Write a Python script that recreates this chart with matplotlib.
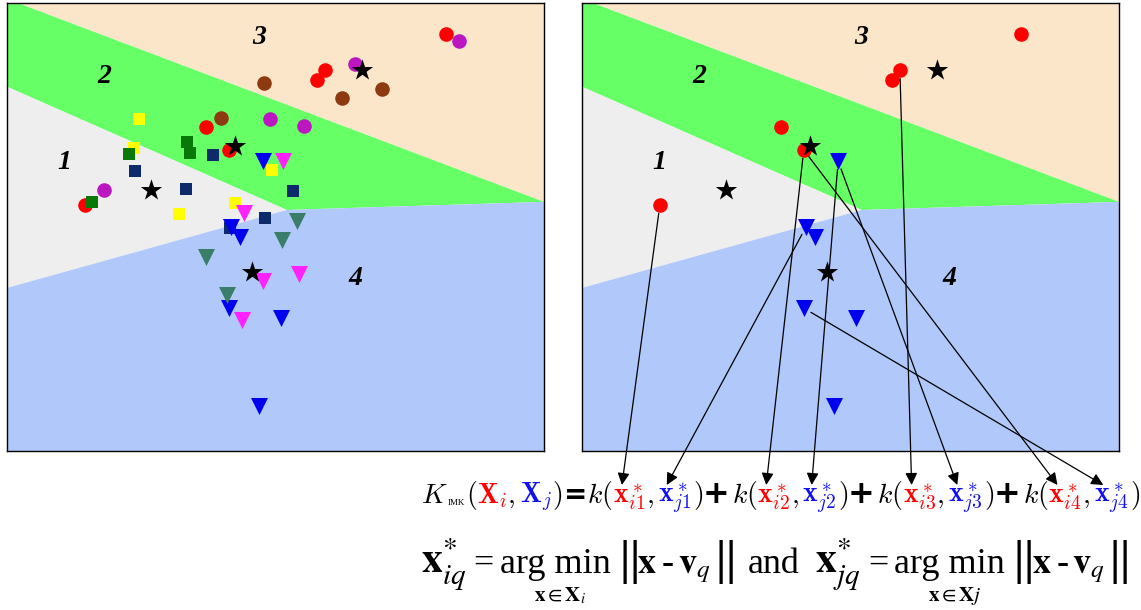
import matplotlib
matplotlib.use("Agg")
import matplotlib.pyplot as plt
from matplotlib.patches import ConnectionPatch
from matplotlib.transforms import IdentityTransform

W, H = 1141, 610

# ---------------------------------------------------------------- data
# Points live in a 0..100 x 0..100 square (y up).
red_x = [81.8, 59.2, 57.7, 37.1, 41.3, 14.5]
red_y = [93.1, 85.0, 82.8, 72.3, 67.2, 54.9]
purple_x = [84.2, 64.8, 49.0, 55.3, 18.1]
purple_y = [91.5, 86.4, 74.1, 72.5, 58.3]
brown_x = [47.9, 62.4, 69.8, 39.9]
brown_y = [82.1, 78.8, 80.8, 74.3]

yellow_x = [24.6, 23.6, 49.3, 42.5, 32.0]
yellow_y = [74.1, 67.6, 62.7, 55.4, 52.9]
green_x = [33.5, 34.1, 22.7, 15.8]
green_y = [69.0, 66.5, 66.3, 55.6]
navy_x = [38.4, 23.8, 33.3, 53.3, 48.0, 41.5]
navy_y = [66.1, 62.5, 58.5, 58.0, 52.0, 49.8]

blue_x = [47.7, 41.7, 43.4, 41.3, 51.0, 46.9]
blue_y = [64.7, 50.0, 47.8, 31.9, 29.7, 10.0]
magenta_x = [51.4, 44.1, 54.4, 47.7, 43.8]
magenta_y = [64.7, 53.1, 39.5, 37.9, 29.2]
teal_x = [54.0, 51.2, 37.1, 41.0]
teal_y = [51.3, 47.1, 43.3, 34.8]

# code vectors v_1..v_4
star_x = [26.8, 42.5, 66.1, 45.6]
star_y = [58.3, 68.1, 85.0, 40.0]

# region partition of the square
left_12 = (0.0, 81.3)
left_14 = (0.0, 36.4)
junction_124 = (52.1, 53.8)
right_234 = (100.0, 55.6)
top_23 = (2.0, 100.0)

region_labels = ["1", "2", "3", "4"]
label_y = [64.3, 83.5, 92.2, 38.6]
label_x_left = [10.6, 18.1, 46.9, 64.8]
label_x_right = [14.3, 21.8, 52.0, 68.5]

# nearest member of each set to v_q (indices into the red / blue lists)
pick_i = [5, 4, 1, 4]
pick_j = [1, 0, 0, 3]

# ---------------------------------------------------------------- colours
C_TAN, C_GREEN, C_GRAY, C_BLUE = "#FCE6C9", "#66FF66", "#EEEEEE", "#B0C8FA"
RED, BLUE = "#FF0000", "#1111EE"

fig = plt.figure(figsize=(W / 100, H / 100), dpi=100)
fig.patch.set_facecolor("white")


def draw_regions(ax):
    polys = [
        ([top_23, (100, 100), right_234], C_TAN),
        ([(0, 100), top_23, right_234, junction_124, left_12], C_GREEN),
        ([left_12, junction_124, left_14], C_GRAY),
        ([left_14, junction_124, right_234, (100, 0), (0, 0)], C_BLUE),
    ]
    for pts, c in polys:
        xs, ys = zip(*pts)
        ax.fill(xs, ys, color=c, lw=0, zorder=0)
    ax.set_xlim(0, 100)
    ax.set_ylim(0, 100)
    ax.set_xticks([])
    ax.set_yticks([])
    for sp in ax.spines.values():
        sp.set_linewidth(1.0)
        sp.set_color("black")
        sp.set_zorder(10)


def draw_labels(ax, xs):
    for s, x, y in zip(region_labels, xs, label_y):
        ax.text(x, y, s, ha="center", va="center", fontsize=20,
                family="Liberation Serif", weight="bold", style="italic",
                zorder=6)


axL = fig.add_axes([7 / W, 1 - 451 / H, 537 / W, 448 / H])
axR = fig.add_axes([582 / W, 1 - 451 / H, 537 / W, 448 / H])
for ax in (axL, axR):
    draw_regions(ax)
draw_labels(axL, label_x_left)
draw_labels(axR, label_x_right)

S_O, S_SQ, S_TRI, S_STAR = 110, 85, 150, 260

# left: every set
axL.scatter(red_x, red_y, s=S_O, marker="o", color=RED, lw=0, zorder=3)
axL.scatter(purple_x, purple_y, s=S_O, marker="o", color="#BB16C0", lw=0, zorder=3)
axL.scatter(brown_x, brown_y, s=S_O, marker="o", color="#8E3A10", lw=0, zorder=3)
axL.scatter(yellow_x, yellow_y, s=S_SQ, marker="s", color="#FFFF00", lw=0, zorder=3)
axL.scatter(green_x, green_y, s=S_SQ, marker="s", color="#087808", lw=0, zorder=3)
axL.scatter(navy_x, navy_y, s=S_SQ, marker="s", color="#0D2B6B", lw=0, zorder=3)
axL.scatter(blue_x, blue_y, s=S_TRI, marker="v", color="#0000EE", lw=0, zorder=4)
axL.scatter(magenta_x, magenta_y, s=S_TRI, marker="v", color="#FF22FF", lw=0, zorder=4)
axL.scatter(teal_x, teal_y, s=S_TRI, marker="v", color="#3A7E6A", lw=0, zorder=4)
axL.scatter(star_x, star_y, s=S_STAR, marker="*", color="black", lw=0, zorder=5)

# right: the two sets being compared
axR.scatter(red_x, red_y, s=S_O, marker="o", color=RED, lw=0, zorder=3)
axR.scatter(blue_x, blue_y, s=S_TRI, marker="v", color="#0000EE", lw=0, zorder=4)
axR.scatter(star_x, star_y, s=S_STAR, marker="*", color="black", lw=0, zorder=5)

# ---------------------------------------------------------------- formulas
renderer = fig.canvas.get_renderer()


def run(pieces, x, y_top):
    """Lay text pieces left to right on one baseline (y measured from top)."""
    boxes = {}
    for s, st in pieces:
        x += st.get("pad", 0)
        t = fig.text(x, H - y_top + st.get("dy", 0), s,
                     transform=IdentityTransform(), ha="left", va="baseline",
                     fontsize=st.get("size", 20), color=st.get("color", "black"),
                     family=st.get("family", "Liberation Serif"),
                     weight=st.get("weight", "normal"),
                     math_fontfamily=st.get("math", "cm"))
        bb = t.get_window_extent(renderer)
        if "tag" in st:
            boxes[st["tag"]] = bb
        x = bb.x1
    return boxes


S1 = 20
line1 = [
    (r"$K$", dict(size=S1)),
    ("IMK", dict(size=6.5, dy=-2, pad=0)),
    (r"$($", dict(size=S1, pad=1)),
    (r"$\mathbf{X}_i$", dict(size=S1, color=RED)),
    (r"$,$", dict(size=S1)),
    (r"$\mathbf{X}_j$", dict(size=S1, color=BLUE, pad=5)),
    (r"$)$", dict(size=S1)),
    ("=", dict(size=S1, family="DejaVu Sans", weight="bold", pad=2)),
]
for q in range(1, 5):
    line1 += [
        (r"$k($", dict(size=S1, pad=0 if q == 1 else 2)),
        (r"$\mathbf{x}^*_{i%d}$" % q, dict(size=S1, color=RED, tag=("i", q))),
        (r"$,$", dict(size=S1)),
        (r"$\mathbf{x}^*_{j%d}$" % q, dict(size=S1, color=BLUE, pad=4, tag=("j", q))),
        (r"$)$", dict(size=S1, pad=1)),
    ]
    if q < 4:
        line1.append(("+", dict(size=S1 + 3, family="DejaVu Sans", weight="bold")))

LINE1_BASE = 503
tips = run(line1, 421, LINE1_BASE)

S2 = 26
ST = dict(math="stix")
BAR = dict(size=36, math="stix", dy=-1)
line2 = [
    (r"$\mathbf{x}^{*}_{iq}$", dict(size=30, **ST)),
    ("=", dict(size=S2, pad=7)),
    ("arg min", dict(size=S2, pad=6, tag="am1")),
    (r"$\Vert$", dict(pad=5, **BAR)),
    (r"$\mathbf{x}$", dict(size=S2, pad=0, **ST)),
    ("-", dict(size=S2, weight="bold", pad=5)),
    (r"$\mathbf{v}_{q}$", dict(size=S2, pad=4, **ST)),
    (r"$\Vert$", dict(pad=1, **BAR)),
    ("and", dict(size=S2, pad=14)),
    (r"$\mathbf{x}^{*}_{jq}$", dict(size=30, pad=16, **ST)),
    ("=", dict(size=S2, pad=7)),
    ("arg min", dict(size=S2, pad=6, tag="am2")),
    (r"$\Vert$", dict(pad=5, **BAR)),
    (r"$\mathbf{x}$", dict(size=S2, pad=0, **ST)),
    ("-", dict(size=S2, weight="bold", pad=5)),
    (r"$\mathbf{v}_{q}$", dict(size=S2, pad=4, **ST)),
    (r"$\Vert$", dict(pad=1, **BAR)),
]
am = run(line2, 421, 573)

for key, sub in (("am1", r"$\mathbf{x}\in\mathbf{X}_i$"), ("am2", r"$\mathbf{x}\in\mathbf{X}j$")):
    bb = am[key]
    fig.text((bb.x0 + bb.x1) / 2 + 5, H - 601, sub, transform=IdentityTransform(),
             ha="center", va="baseline", fontsize=15, math_fontfamily="stix")

# ---------------------------------------------------------------- arrows
ARROW = "-|>,head_length=0.6,head_width=0.3"
for q in range(1, 5):
    for tag, xs, ys, idx in (("i", red_x, red_y, pick_i), ("j", blue_x, blue_y, pick_j)):
        k = idx[q - 1]
        bb = tips[(tag, q)]
        tx = bb.x0 + 0.27 * bb.width
        ty = H - LINE1_BASE + 18
        con = ConnectionPatch(xyA=(xs[k], ys[k]), coordsA=axR.transData,
                              xyB=(tx, ty), coordsB="figure pixels",
                              arrowstyle=ARROW, mutation_scale=12,
                              shrinkA=6, shrinkB=0, lw=0.9, color="black",
                              zorder=8)
        fig.add_artist(con)

fig.savefig("out.png", dpi=100, facecolor="white")
